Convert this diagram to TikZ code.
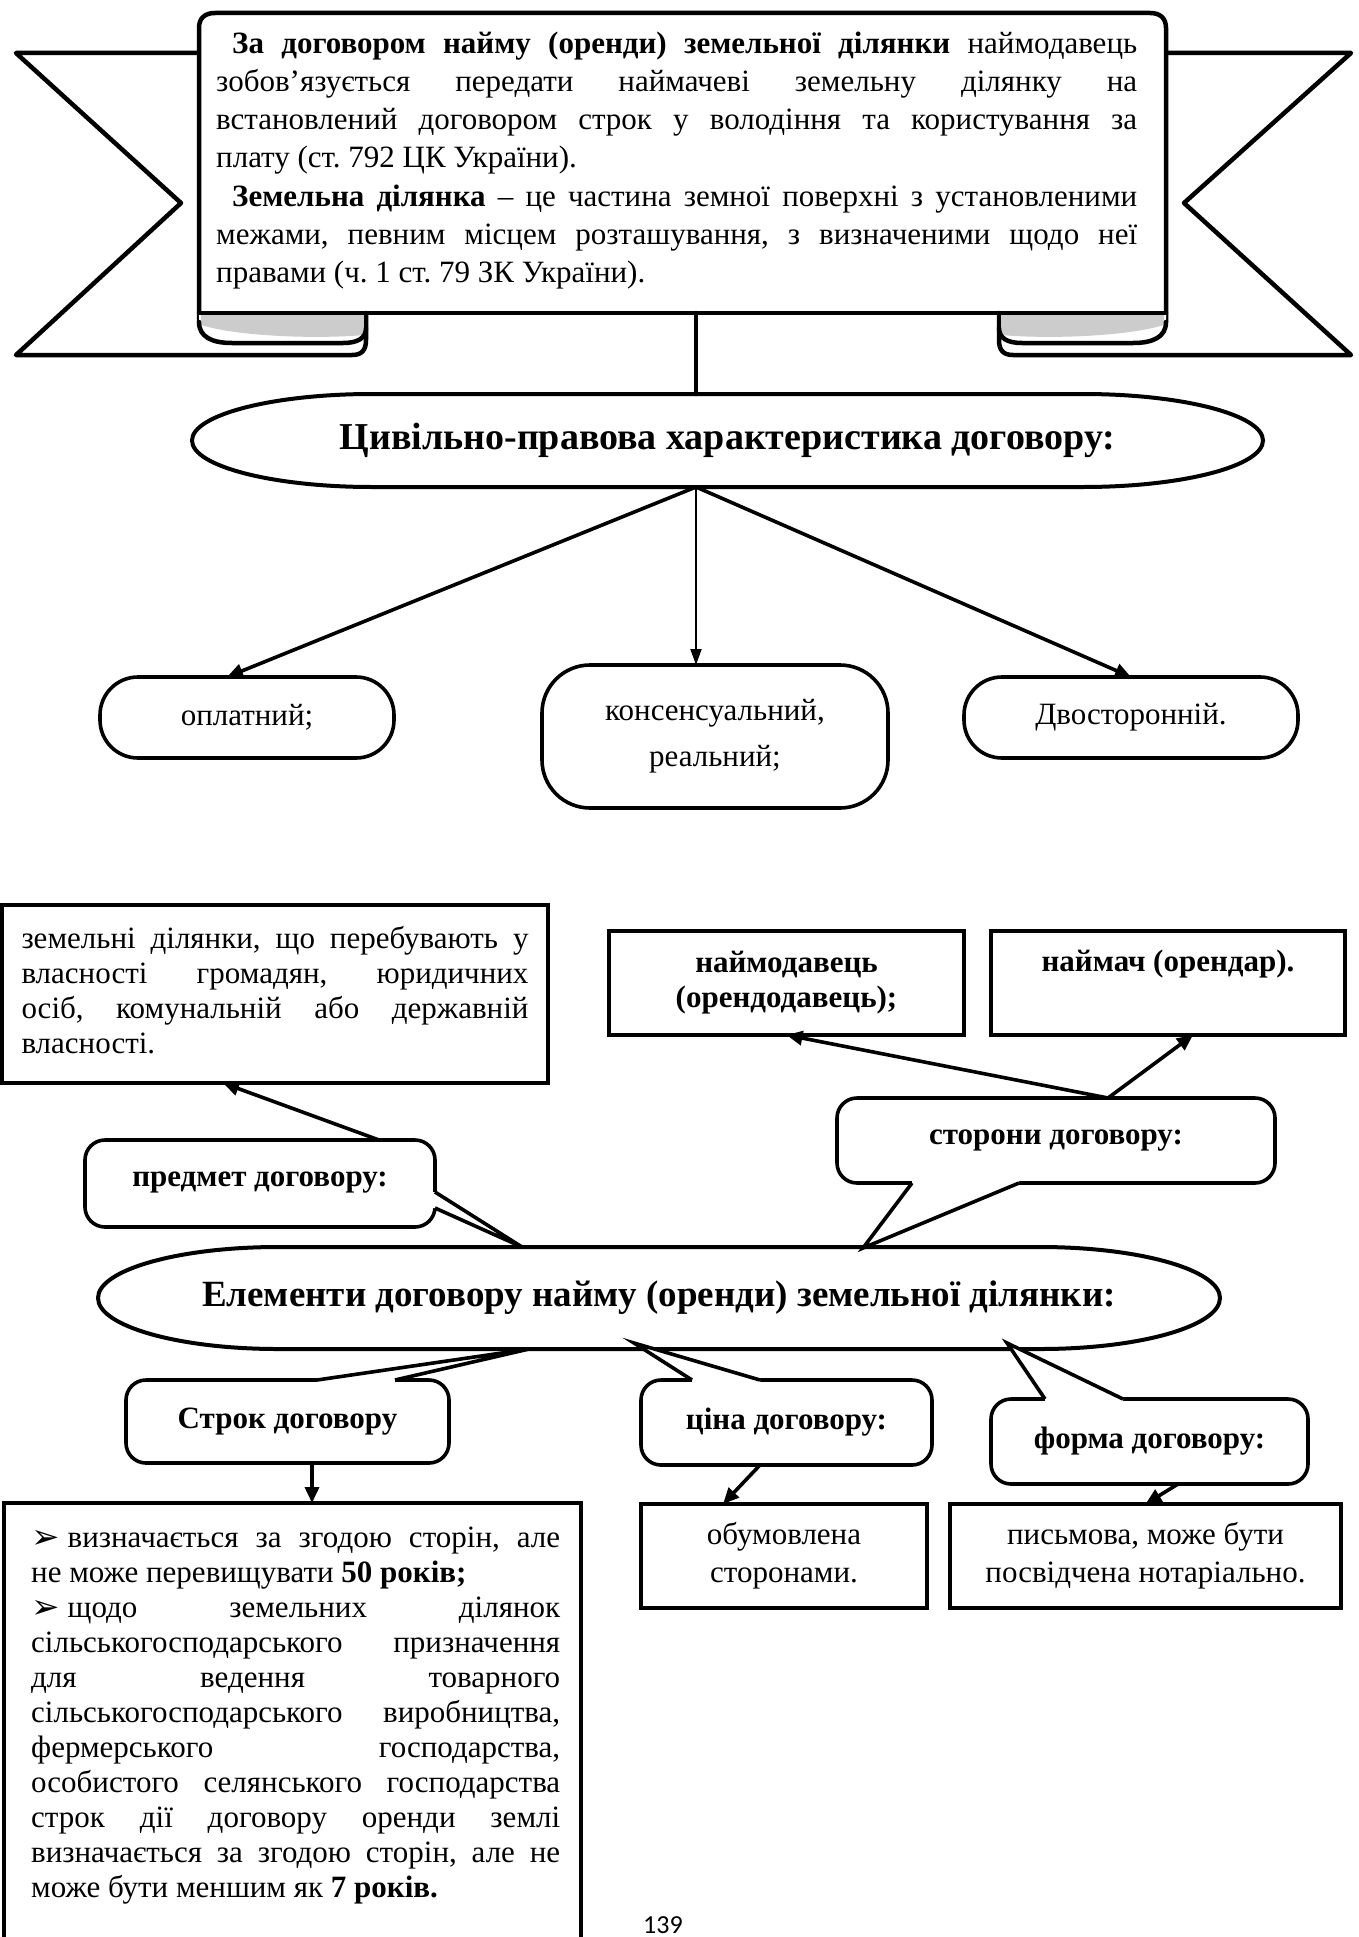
\documentclass[tikz,border=0pt]{standalone}
\usepackage{fontspec}
\setmainfont{Liberation Serif}
\newfontfamily\symf{DejaVu Sans}
\newfontfamily\pagef{Carlito}
\usetikzlibrary{calc,arrows.meta}
% justified line (paragraph filled to full width) and last line of a paragraph
\newcommand\jline[1]{{\parfillskip=0pt\relax\noindent#1\par}}
\newcommand\lline[1]{{\parfillskip=0pt plus 1fil\relax\noindent#1\par}}
\newcommand\bul{\raisebox{-1pt}{\symf\fontsize{34}{35}\selectfont ➢}\hspace{8pt}}
\frenchspacing
\tikzset{
 bline/.style={line width=4.5pt, line join=round, line cap=round},
 boxs/.style={draw, line width=3.6pt, fill=white, inner sep=0pt, outer sep=0pt},
 rboxs/.style={boxs, rounded corners=20pt},
 conn/.style={line width=3.6pt, -{Triangle[length=16pt,width=14pt]}},
 thinconn/.style={line width=2pt, -{Triangle[length=16pt,width=11pt]}},
 eline/.style={line width=4pt},
 cline/.style={line width=3.6pt, line join=miter},
 tx/.style={font=\fontsize{31}{35}\selectfont},
 btx/.style={font=\fontsize{31}{35}\selectfont\bfseries},
 etx/.style={font=\fontsize{37}{42}\selectfont\bfseries, inner sep=0pt, outer sep=0pt},
 jtext/.style={align=justify, execute at begin node={\tolerance=10000\hbadness=10000\hyphenpenalty=10000\frenchspacing}},
}
% terminator outline around a node: #1 node, #2 x radius, #3 y radius
\newcommand\termdraw[3]{%
 \draw[eline] ($(#1.north west)+(#2,0)$) -- ($(#1.north east)+({-#2},0)$)
  .. controls ($(#1.north east)+({-0.4477*#2},0)$) and ($(#1.east)+(0,{-0.5523*#3})$) .. (#1.east)
  .. controls ($(#1.east)+(0,{0.5523*#3})$) and ($(#1.south east)+({-0.4477*#2},0)$) .. ($(#1.south east)+({-#2},0)$)
  -- ($(#1.south west)+(#2,0)$)
  .. controls ($(#1.south west)+({0.4477*#2},0)$) and ($(#1.west)+(0,{0.5523*#3})$) .. (#1.west)
  .. controls ($(#1.west)+(0,{-0.5523*#3})$) and ($(#1.north west)+({0.4477*#2},0)$) .. cycle;}
% callout pointer: b1, tip, b2, b1 inside, b2 inside
\newcommand\callptr[5]{%
 \fill[white] #4 -- #1 -- #2 -- #3 -- #5 -- cycle;
 \draw[cline] #1 -- #2 -- #3;}
\begin{document}
\begin{tikzpicture}[x=1pt,y=-1pt]
\useasboundingbox (0,0) rectangle (1359,1937);

% ---------- banner tails ----------
\fill[white] (199,53) -- (16,53) -- (181,203) -- (16,355) -- (366,355) -- (366,313) -- (199,313) -- cycle;
\draw[bline] (199,53) -- (16,53) -- (181,203) -- (16,355) -- (352,355) .. controls (362,355) and (366,350) .. (366,340) -- (366,313);
\fill[white] (1166,53) -- (1351,53) -- (1184,203) -- (1351,355) -- (999,355) -- (999,313) -- (1166,313) -- cycle;
\draw[bline] (1166,53) -- (1351,53) -- (1184,203) -- (1351,355) -- (1013,355) .. controls (1003,355) and (999,350) .. (999,340) -- (999,313);

% ---------- banner panel ----------
\fill[white] (199,313) -- (199,28) .. controls (199,18) and (205,13) .. (215,13) -- (1150,13) .. controls (1160,13) and (1166,18) .. (1166,28) -- (1166,313) -- cycle;
\draw[bline] (199,322) -- (199,28) .. controls (199,18) and (205,13) .. (215,13) -- (1150,13) .. controls (1160,13) and (1166,18) .. (1166,28) -- (1166,322);
% folds
\fill[white] (199,313) -- (199,322) .. controls (199,337) and (212,343) .. (232,343) -- (343,343) .. controls (358,343) and (366,338) .. (366,328) -- (366,313) -- cycle;
\fill[black!20] (201,315) -- (364,315) -- (364,335) .. controls (320,339) and (240,337) .. (201,325) -- cycle;
\draw[bline] (199,322) .. controls (199,337) and (212,343) .. (232,343) -- (343,343) .. controls (358,343) and (366,338) .. (366,328);
\fill[white] (1166,313) -- (1166,322) .. controls (1166,337) and (1153,343) .. (1133,343) -- (1022,343) .. controls (1007,343) and (999,338) .. (999,328) -- (999,313) -- cycle;
\fill[black!20] (1164,315) -- (1001,315) -- (1001,335) .. controls (1045,339) and (1125,337) .. (1164,325) -- cycle;
\draw[bline] (1166,322) .. controls (1166,337) and (1153,343) .. (1133,343) -- (1022,343) .. controls (1007,343) and (999,338) .. (999,328);
\draw[bline] (199,313) -- (1166,313);
\draw[bline] (366,313) -- (366,330);
\draw[bline] (999,313) -- (999,330);
\coordinate (banbot) at (696,313);

\node[anchor=north west, inner sep=0pt, text width=921pt, jtext, font=\fontsize{31}{38.3}\selectfont] (bantext) at (216,26) {%
\jline{\strut\hspace*{16pt}\textbf{За договором найму (оренди) земельної ділянки} наймодавець}%
\jline{зобов’язується передати наймачеві земельну ділянку на}%
\jline{встановлений договором строк у володіння та користування за}%
\lline{плату (ст. 792 ЦК України).}%
\jline{\hspace*{16pt}\textbf{Земельна ділянка} – це частина земної поверхні з установленими}%
\jline{межами, певним місцем розташування, з визначеними щодо неї}%
\lline{правами (ч. 1 ст. 79 ЗК України).}};

% ---------- characteristic ----------
\node[etx, font=\fontsize{38}{42}\selectfont\bfseries, minimum width=1071pt, minimum height=93pt] (e1) at (727.5,440.5) {Цивільно-правова характеристика договору:};
\termdraw{e1}{180}{46.5}
\draw[bline] (banbot) -- (e1.north -| banbot);
\coordinate (e1b) at (e1.south -| banbot);

\node[boxs, rounded corners=38pt, minimum width=294pt, minimum height=81pt, tx] (op) at (247,717.5) {оплатний;};
\node[boxs, rounded corners=48pt, minimum width=346pt, minimum height=143pt, align=center, font=\fontsize{31}{46}\selectfont] (kons) at (715,736.5) {консенсуальний,\\реальний;};
\node[boxs, rounded corners=38pt, minimum width=334pt, minimum height=81pt, tx] (dv) at (1131,717.5) {Двосторонній.};
\draw[conn] (e1b) -- ($(op.north)+(-20,0)$);
\draw[thinconn] (e1b) -- (kons.north -| e1b);
\draw[conn] (e1b) -- (dv.north);

% ---------- elements: upper ----------
\node[boxs, tx, text width=507pt, inner xsep=19.5pt, minimum height=178pt, jtext] (zem) at (275,994) {%
\jline{\strut земельні ділянки, що перебувають у}%
\jline{власності громадян, юридичних}%
\jline{осіб, комунальній або державній}%
\lline{власності.\strut}};
\node[boxs, btx, minimum width=355pt, minimum height=104pt, align=center] (nd) at (786.5,983) {наймодавець\\(орендодавець);};
\node[boxs, btx, minimum width=354pt, minimum height=104pt, align=center] (nm) at (1168,983) {наймач (орендар).\\\strut};

\node[etx, minimum width=1122pt, minimum height=102pt] (e2) at (659,1298) {Елементи договору найму (оренди) земельної ділянки:};
\termdraw{e2}{180}{51}

\node[rboxs, btx, minimum width=438pt, minimum height=85pt] (stor) at (1056,1140.5) {\raisebox{5pt}{сторони договору:}};
\callptr{(912,1183)}{(863,1248)}{(1019,1183)}{(912,1176)}{(1019,1176)}
\node[rboxs, btx, minimum width=350pt, minimum height=87pt] (pred) at (260,1183.5) {\raisebox{8pt}{предмет договору:}};
\callptr{(435,1192)}{(522,1247)}{(435,1208)}{(428,1192)}{(428,1208)}

\draw[conn] ($(pred.north)+(119,0)$) -- ($(zem.south)+(-52,0)$);
\draw[conn] ($(stor.north)+(52,0)$) -- (nd.south);
\draw[conn] ($(stor.north)+(52,0)$) -- ($(nm.south)+(25,0)$);

% ---------- elements: lower ----------
\node[rboxs, btx, minimum width=323pt, minimum height=83pt] (srok) at (287.5,1421.5) {\raisebox{6pt}{Строк договору}};
\callptr{(317,1380)}{(529,1349)}{(395,1380)}{(317,1387)}{(395,1387)}
\node[rboxs, btx, minimum width=291pt, minimum height=85pt] (tsina) at (786.5,1422.5) {\raisebox{6pt}{ціна договору:}};
\callptr{(692,1380)}{(634,1343)}{(760,1380)}{(692,1387)}{(760,1387)}
\node[rboxs, btx, minimum width=317pt, minimum height=85pt] (forma) at (1149.5,1441.5) {\raisebox{6pt}{форма договору:}};
\callptr{(1045,1399)}{(1007,1343)}{(1123,1399)}{(1045,1406)}{(1123,1406)}

\node[boxs, minimum width=286pt, minimum height=104pt, align=center, font=\fontsize{31}{38}\selectfont] (obum) at (784,1556) {обумовлена\\сторонами.};
\node[boxs, minimum width=391pt, minimum height=104pt, align=center, font=\fontsize{31}{38}\selectfont] (pysm) at (1145.5,1556) {письмова, може бути\\посвідчена нотаріально.};

\draw[line width=3.6pt] (4,1960) -- (4,1503) -- (581,1503) -- (581,1960);
\coordinate (bigtop) at (312,1503);
\node[anchor=north west, inner sep=0pt, text width=529pt, jtext, tx] (big) at (31,1522.5) {%
\jline{\strut\bul визначається за згодою сторін, але}%
\lline{не може перевищувати \textbf{50 років;}}%
\jline{\bul щодо земельних ділянок}%
\jline{сільськогосподарського призначення}%
\jline{для ведення товарного}%
\jline{сільськогосподарського виробництва,}%
\jline{фермерського господарства,}%
\jline{особистого селянського господарства}%
\jline{строк дії договору оренди землі}%
\jline{визначається за згодою сторін, але не}%
\lline{може бути меншим як \textbf{7 років.}}};

\draw[conn] ($(srok.south)+(24.5,0)$) -- (bigtop);
\draw[conn] ($(tsina.south)+(-26.5,0)$) -- ($(obum.north)+(-61,0)$);
\draw[conn] ($(forma.south)+(28.5,0)$) -- (pysm.north);

\node[anchor=base, inner sep=0pt, font=\pagef\fontsize{26}{30}\selectfont] (pg) at (663,1933) {139};
\end{tikzpicture}
\end{document}
